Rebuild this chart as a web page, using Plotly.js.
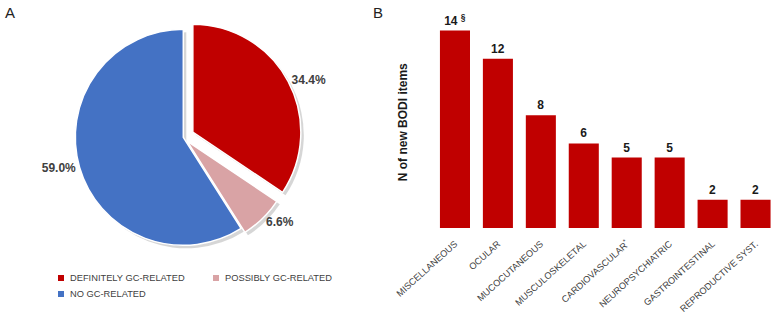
<!DOCTYPE html>
<html>
<head>
<meta charset="utf-8">
<script src="https://cdn.plot.ly/plotly-3.0.1.min.js"></script>
<style>html,body{margin:0;padding:0;background:#fff;}#chart{width:777px;height:315px;}</style>
</head>
<body>
<div id="chart"></div>
<script>
// Panel A: pie
const pieLabels = ["DEFINITELY GC-RELATED", "POSSIBLY GC-RELATED", "NO GC-RELATED"];
const pieValues = [34.4, 6.6, 59.0];
const pieColors = ["#C00000", "#D9A3A5", "#4472C4"];
const piePull = [0.1, 0.05, 0];

// Panel B: bars
const barCategories = ["MISCELLANEOUS", "OCULAR", "MUCOCUTANEOUS", "MUSCULOSKELETAL",
  "CARDIOVASCULAR<sup>*</sup>", "NEUROPSYCHIATRIC", "GASTROINTESTINAL", "REPRODUCTIVE SYST."];
const barValues = [14, 12, 8, 6, 5, 5, 2, 2];
const barTexts = ["14 <sup>§</sup>", "12", "8", "6", "5", "5", "2", "2"];

const W = 777, H = 315;
const font = "Liberation Sans, Arial, sans-serif";
const px = v => v / W, py = v => 1 - v / H;

const pieDomain = {x: [px(64.5), px(302.1)], y: [py(256.1), py(18.5)]};

const pieShadow = {
  type: "pie",
  labels: pieLabels,
  values: pieValues,
  sort: false,
  direction: "clockwise",
  rotation: 0,
  pull: piePull,
  marker: {colors: pieLabels.map(() => "rgba(0,0,0,0.16)"), line: {width: 0}},
  textinfo: "none",
  hoverinfo: "skip",
  domain: {x: [px(64.5 + 3), px(302.1 + 3)], y: [py(256.1 + 3), py(18.5 + 3)]},
  showlegend: false
};

const pie = {
  type: "pie",
  labels: pieLabels,
  values: pieValues,
  sort: false,
  direction: "clockwise",
  rotation: 0,
  pull: piePull,
  marker: {colors: pieColors, line: {color: "#ffffff", width: 1.5}},
  textposition: "outside",
  texttemplate: "%{value:.1f}%",
  textfont: {family: font, size: 12, color: "#404040", weight: "bold"},
  hoverinfo: "label+value",
  domain: pieDomain,
  showlegend: false
};

const bar = {
  type: "bar",
  x: barCategories,
  y: barValues,
  text: barTexts,
  textposition: "outside",
  cliponaxis: false,
  textfont: {family: font, size: 12, color: "#1a1a1a", weight: "bold"},
  marker: {color: "#C00000", line: {color: "#C00000", width: 0}},
  xaxis: "x",
  yaxis: "y",
  showlegend: false
};

// custom two-column legend for the pie
const legendPos = [[58, 278], [213, 278], [58, 294]];
const shapes = [];
const annotations = [
  {text: "A", x: px(3), y: py(2), xref: "paper", yref: "paper", xanchor: "left", yanchor: "top", showarrow: false, font: {family: font, size: 15, color: "#222"}},
  {text: "B", x: px(371), y: py(2), xref: "paper", yref: "paper", xanchor: "left", yanchor: "top", showarrow: false, font: {family: font, size: 15, color: "#222"}}
];
pieLabels.forEach((lab, i) => {
  const [lx, ly] = legendPos[i];
  shapes.push({type: "rect", xref: "paper", yref: "paper",
    x0: px(lx), x1: px(lx + 6), y0: py(ly + 3), y1: py(ly - 3),
    fillcolor: pieColors[i], line: {width: 0}});
  annotations.push({text: lab, x: px(lx + 9.5), y: py(ly), xref: "paper", yref: "paper",
    xanchor: "left", yanchor: "middle", showarrow: false,
    font: {family: font, size: 9.3, color: "#404040"}});
});

const layout = {
  width: W, height: H,
  margin: {l: 0, r: 0, t: 0, b: 0},
  paper_bgcolor: "#fff",
  plot_bgcolor: "rgba(0,0,0,0)",
  font: {family: font, color: "#404040"},
  showlegend: false,
  bargap: 0.3,
  xaxis: {
    domain: [px(433.5), 1],
    range: [-0.5, 7.5],
    tickangle: -42,
    tickfont: {family: font, size: 9.2, color: "#404040"},
    showgrid: false, zeroline: false, showline: false,
    ticks: "outside", ticklen: 6, tickcolor: "rgba(0,0,0,0)",
    fixedrange: true
  },
  yaxis: {
    domain: [py(228), py(16.5)],
    range: [0, 15],
    showgrid: false, zeroline: false, showline: false, showticklabels: false,
    title: {text: "N of new BODI items", font: {family: font, size: 12, color: "#1a1a1a", weight: "bold"}, standoff: 22},
    fixedrange: true
  },
  shapes: shapes,
  annotations: annotations
};

Plotly.newPlot("chart", [pieShadow, pie, bar], layout, {displayModeBar: false, staticPlot: true});
</script>
</body>
</html>
